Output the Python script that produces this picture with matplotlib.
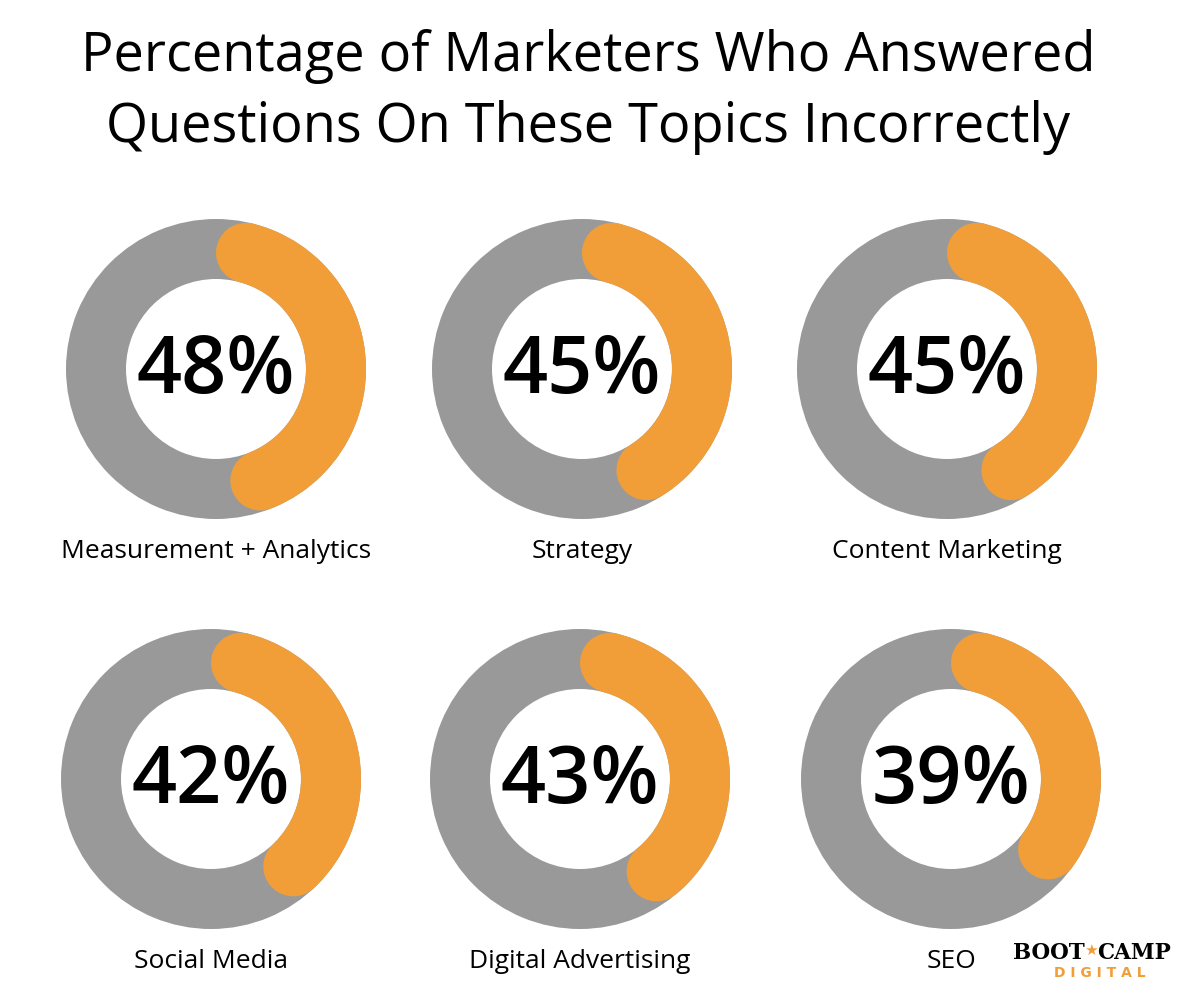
import numpy as np
import matplotlib.pyplot as plt
from matplotlib.patches import Wedge

title = "Percentage of Marketers Who Answered\nQuestions On These Topics Incorrectly"
topics = ["Measurement + Analytics", "Strategy", "Content Marketing",
          "Social Media", "Digital Advertising", "SEO"]
values = [48, 45, 45, 42, 43, 39]

W, H, DPI = 1184, 992, 100
fig = plt.figure(figsize=(W/DPI, H/DPI), dpi=DPI)
ax = fig.add_axes([0, 0, 1, 1])
ax.set_xlim(0, W); ax.set_ylim(H, 0); ax.axis('off')

centers = [(216, 369), (582, 369), (947, 369), (211, 779), (580, 779), (951, 779)]
R_out, R_in = 150, 90
rc, wd = (R_out + R_in) / 2, R_out - R_in
gray, orange = "#999999", "#F29E38"
cap = np.degrees(np.arcsin((wd/2) / rc))

ax.text(W/2 - 4, 92, title, ha='center', va='center', fontsize=39,
        family='Open Sans', linespacing=1.4)

for (cx, cy), t, v in zip(centers, topics, values):
    ax.add_patch(Wedge((cx, cy), R_out, 0, 360, width=wd, color=gray, lw=0))
    a = np.radians(np.linspace(cap, v*3.6 - cap, 200))
    ax.plot(cx + rc*np.sin(a), cy - rc*np.cos(a), color=orange,
            lw=wd*72/DPI, solid_capstyle='round')
    ax.text(cx, cy + 3, f"{v}%", ha='center', va='center', fontsize=57,
            family='Open Sans', weight='semibold')
    ax.text(cx, cy + 182, t, ha='center', va='center', fontsize=19, family='Open Sans')

ax.text(1085, 953, "BOOT", ha='right', va='center', fontsize=15.5,
        family='DejaVu Serif', weight='bold')
ax.text(1091, 950, "★", ha='center', va='center', fontsize=11, color=orange,
        family='DejaVu Sans')
ax.text(1097, 953, "CAMP", ha='left', va='center', fontsize=15.5,
        family='DejaVu Serif', weight='bold')
ax.text(1100, 973, "D I G I T A L", ha='center', va='center', fontsize=10,
        color=orange, weight='bold')

fig.savefig("out.png", dpi=DPI, facecolor='white')
